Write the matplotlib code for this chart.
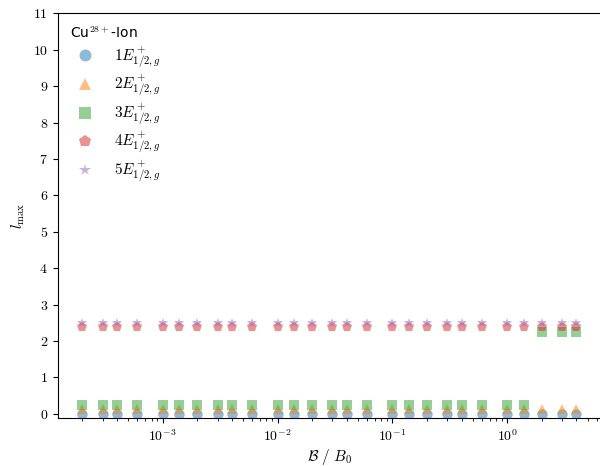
"""l_max of the lowest five 1/2,g states of Cu28+ versus magnetic field."""
import numpy as np
import matplotlib
matplotlib.use('Agg')
import matplotlib.pyplot as plt
from matplotlib.ticker import FuncFormatter, MultipleLocator

plt.rcParams['mathtext.fontset'] = 'cm'
plt.rcParams['font.family'] = 'serif'
plt.rcParams['font.serif'] = ['cmr10', 'DejaVu Serif']
plt.rcParams['axes.formatter.use_mathtext'] = True
plt.rcParams['axes.unicode_minus'] = False
plt.rcParams['font.size'] = 10

# field strengths B / B0
B = [2e-4, 3e-4, 4e-4, 6e-4,
     1e-3, 1.4e-3, 2e-3, 3e-3, 4e-3, 6e-3,
     1e-2, 1.4e-2, 2e-2, 3e-2, 4e-2, 6e-2,
     1e-1, 1.4e-1, 2e-1, 3e-1, 4e-1, 6e-1,
     1.0, 1.4, 2.0, 3.0, 4.0]

# converged l_max for each state
lmax_1 = [0] * 27
lmax_2 = [0] * 27
lmax_3 = [0] * 24 + [2, 2, 2]
lmax_4 = [2] * 27
lmax_5 = [2] * 27

states = [lmax_1, lmax_2, lmax_3, lmax_4, lmax_5]
labels = [r'$%dE^+_{1/2,g}$' % (i + 1) for i in range(5)]
markers = ['o', '^', 's', 'p', '*']
# small vertical shift per state so overlapping points stay visible
shift = 0.125

fig = plt.figure(figsize=(6.0, 4.66), dpi=100)
ax = fig.add_axes([57.7 / 600, 47.7 / 466, 543.5 / 600, 405 / 466])

for i, (lm, lab, mk) in enumerate(zip(states, labels, markers)):
    y = np.array(lm, dtype=float) + i * shift
    ax.plot(B, y, ls='none', marker=mk, ms=7.5, color=f'C{i}', alpha=0.5,
            markeredgewidth=0, label=lab)

ax.set_xscale('log')
ax.set_ylim(-0.125, 11)
ax.yaxis.set_major_locator(MultipleLocator(1))
ax.yaxis.set_major_formatter(FuncFormatter(lambda v, _: f'${v:.0f}$'))
ax.spines['right'].set_visible(False)

ax.set_xlabel(r'$\mathcal{B}\ /\ B_0$', fontsize=11, labelpad=2)
ax.set_ylabel(r'$l_\mathrm{max}$', fontsize=11)

leg = ax.legend(title=r'Cu$^{28+}$-Ion', loc='upper left', frameon=False,
                fontsize=11, labelspacing=0.22, handletextpad=0.9,
                borderaxespad=0.4, markerscale=1.15)
leg.get_title().set_fontsize(10)
leg.get_title().set_family('DejaVu Sans')
leg._legend_box.align = 'left'

plt.savefig('out.png', dpi=100)
